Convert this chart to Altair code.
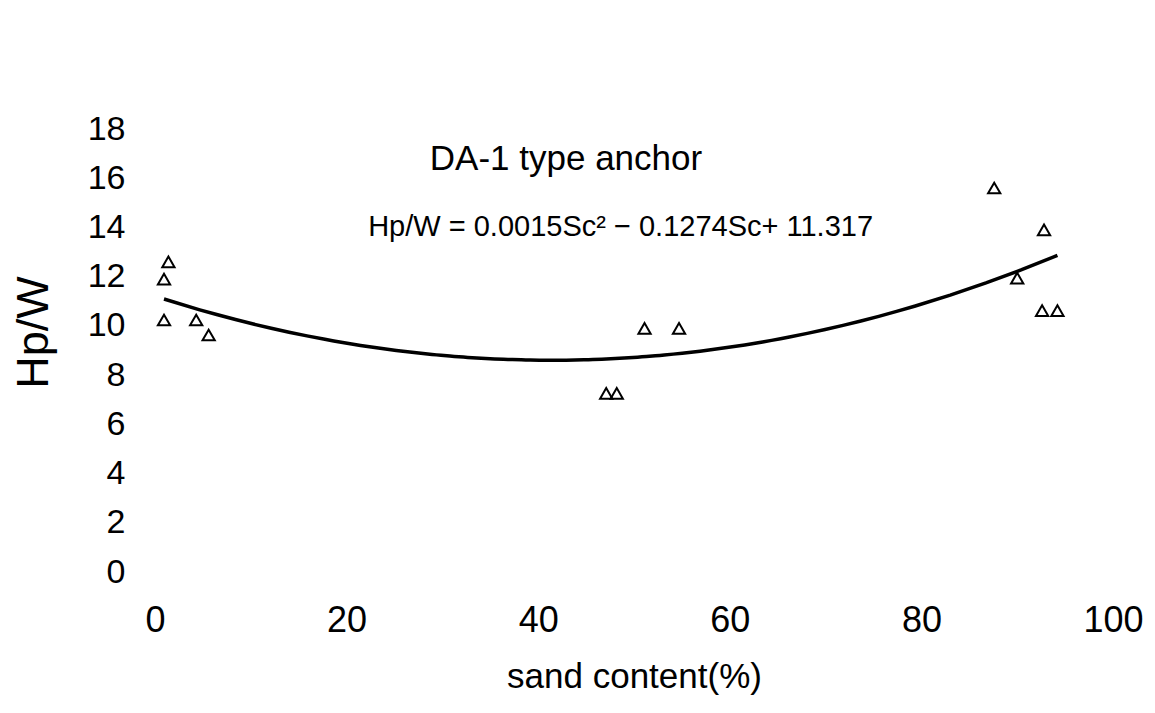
import altair as alt
import pandas as pd

# Data
sand = [0.94, 1.4, 0.94, 4.3, 5.6, 47.1, 48.2, 51.1, 54.7, 87.6, 90.0, 92.8, 92.6, 94.2]
hpw = [11.9, 12.6, 10.24, 10.24, 9.63, 7.26, 7.26, 9.9, 9.9, 15.6, 11.94, 13.9, 10.62, 10.62]

x_ticks = [0, 20, 40, 60, 80, 100]
y_ticks = [0, 2, 4, 6, 8, 10, 12, 14, 16, 18]

title_text = ["DA-1 type anchor"]
title_pos_x = [42.9]
title_pos_y = [16.8]

eq_text = ["Hp/W = 0.0015Sc\u00b2 \u2212 0.1274Sc+ 11.317"]
eq_pos_x = [48.6]
eq_pos_y = [14.0]

pts_df = pd.DataFrame({"sand": sand, "hpw": hpw})
title_df = pd.DataFrame({"sand": title_pos_x, "hpw": title_pos_y, "label": title_text})
eq_df = pd.DataFrame({"sand": eq_pos_x, "hpw": eq_pos_y, "label": eq_text})

FONT = "Liberation Sans"
INK = "#000000"

X = alt.X(
    "sand:Q",
    scale=alt.Scale(domain=[0, 100], nice=False, zero=False),
    axis=alt.Axis(
        values=x_ticks,
        title="sand content(%)",
        domain=False,
        ticks=False,
        grid=False,
        labelFont=FONT,
        labelFontSize=36,
        labelColor=INK,
        labelPadding=31,
        labelFlush=False,
        titleFont=FONT,
        titleFontSize=35,
        titleFontWeight="normal",
        titleColor=INK,
        titleBaseline="alphabetic",
        titleY=115,
    ),
)
Y = alt.Y(
    "hpw:Q",
    scale=alt.Scale(domain=[0, 18], nice=False, zero=False),
    axis=alt.Axis(
        values=y_ticks,
        title="Hp/W",
        domain=False,
        ticks=False,
        grid=False,
        labelFont=FONT,
        labelFontSize=34,
        labelColor=INK,
        labelPadding=30,
        labelFlush=False,
        titleFont=FONT,
        titleFontSize=45,
        titleFontWeight="normal",
        titleColor=INK,
        titleAngle=270,
        titleAlign="center",
        titleBaseline="middle",
        titleX=-122,
        titleY=203,
    ),
)

points = alt.Chart(pts_df).mark_point(
    shape="triangle-up", filled=False, color=INK, size=150, strokeWidth=2, opacity=1
).encode(x=X, y=Y)

curve = alt.Chart(pts_df).transform_regression(
    "sand", "hpw", method="poly", order=2
).mark_line(color=INK, strokeWidth=3.5).encode(x=X, y=Y)

title_mark = alt.Chart(title_df).mark_text(
    font=FONT, fontSize=35, color=INK, align="center", baseline="middle"
).encode(x=X, y=Y, text="label:N")

eq_mark = alt.Chart(eq_df).mark_text(
    font=FONT, fontSize=29, color=INK, align="center", baseline="middle"
).encode(x=X, y=Y, text="label:N")

chart = alt.layer(curve, points, title_mark, eq_mark).properties(
    width=958,
    height=443,
    padding={"left": 147, "top": 121, "right": 30, "bottom": 140},
    autosize=alt.AutoSizeParams(type="none"),
    background="white",
).configure_view(stroke=None)

chart.save("out.html", embed_options={"renderer": "svg", "actions": False})
